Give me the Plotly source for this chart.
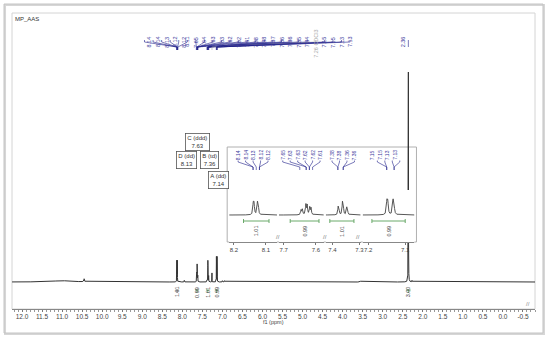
import numpy as np
import plotly.graph_objects as go

# 1H line list: ppm, height (2.36 singlet = 1), half width (ppm)
peak_ppm = [11.0, 10.45, 8.1395, 8.1370, 8.1265, 8.1240, 7.95,
            7.646, 7.642, 7.631, 7.627, 7.619, 7.615,
            7.379, 7.376, 7.363, 7.360, 7.347, 7.344,
            7.26, 7.1495, 7.1470, 7.1330, 7.1305, 7.00, 6.95,
            3.55, 2.36, 2.27]
peak_height = [0.006, 0.014, 0.079, 0.079, 0.079, 0.079, 0.008,
               0.035, 0.040, 0.075, 0.070, 0.055, 0.050,
               0.055, 0.050, 0.085, 0.080, 0.050, 0.045,
               0.043, 0.095, 0.090, 0.095, 0.090, 0.006, 0.006,
               0.004, 1.0, 0.007]
peak_width = [0.30, 0.008, 0.0015, 0.0015, 0.0015, 0.0015, 0.004,
              0.0015, 0.0015, 0.0015, 0.0015, 0.0015, 0.0015,
              0.0015, 0.0015, 0.0015, 0.0015, 0.0015, 0.0015,
              0.0015, 0.0015, 0.0015, 0.0015, 0.0015, 0.004, 0.004,
              0.005, 0.0025, 0.004]

# peak picking labels along the top
main_labels = ["8.14", "8.14", "8.13", "8.12", "8.12", "8.11",
               "7.65", "7.64", "7.63", "7.63", "7.62", "7.62", "7.61",
               "7.38", "7.38", "7.37", "7.36", "7.36", "7.35", "7.34",
               "7.26", "7.15", "7.15", "7.13", "7.13"]
solvent_index = 20
singlet_label = "2.36"

# multiplet boxes
mult_names = ["C (ddd)", "D (dd)", "B (td)", "A (dd)"]
mult_shifts = ["7.63", "8.13", "7.36", "7.14"]

# integrals
integral_values = ["1.01", "0.99", "1.01", "0.99", "3.00"]
integral_from = [8.17, 7.68, 7.41, 7.19, 2.42]
integral_to = [8.09, 7.59, 7.32, 7.10, 2.30]

# axis ticks
x_ticks = [12.0, 11.5, 11.0, 10.5, 10.0, 9.5, 9.0, 8.5, 8.0, 7.5, 7.0, 6.5,
           6.0, 5.5, 5.0, 4.5, 4.0, 3.5, 3.0, 2.5, 2.0, 1.5, 1.0, 0.5, 0.0, -0.5]
x_ticktext = ["12.0", "11.5", "11.0", "10.5", "10.0", "9.5", "9.0", "8.5", "8.0",
              "7.5", "7.0", "6.5", "6.0", "5.5", "5.0", "4.5", "4.0", "3.5", "3.0",
              "2.5", "2.0", "1.5", "1.0", "0.5", "0.0", "-0.5"]

# inset (expanded aromatic region)
inset_ranges = [(8.215, 8.065), (7.715, 7.575), (7.425, 7.295), (7.215, 7.075)]
inset_ticks = [[8.2, 8.1], [7.7, 7.6], [7.4, 7.3], [7.2, 7.1]]
inset_labels = [["8.14", "8.14", "8.13", "8.12", "8.12"],
                ["7.65", "7.63", "7.63", "7.62", "7.62", "7.61"],
                ["7.38", "7.38", "7.36", "7.36"],
                ["7.15", "7.15", "7.13", "7.13"]]
inset_integrals = ["1.01", "0.99", "1.01", "0.99"]

BLUE = "#3a3a9c"
GREEN = "#5aa05a"
FONT = "Liberation Sans"

# plot area in pixels
L, R, T, B = 12, 537, 13, 309
X0, X1 = 12.25, -0.8


def px(x):
    return (x - L) / (R - L)


def py(y):
    return (B - y) / (B - T)


def ppm_px(p):
    return L + (X0 - p) / (X0 - X1) * (R - L)


def spectrum(x):
    y = np.zeros_like(x)
    for p, h, w in zip(peak_ppm, peak_height, peak_width):
        y += h / (1 + ((x - p) / w) ** 2)
    return y


grid = [np.arange(X1, X0, 0.004)]
for p, w in zip(peak_ppm, peak_width):
    if w < 0.01:
        grid.append(np.arange(p - 0.06, p + 0.06, 0.0002))
xs = np.unique(np.concatenate(grid))

fig = go.Figure()
fig.add_trace(go.Scatter(x=xs, y=spectrum(xs), mode="lines",
                         line=dict(color="#333333", width=1), hoverinfo="skip"))

panel_px = [(230, 278), (280, 325), (327, 362), (364, 416)]
inset_top, inset_bottom = 190, 242
for i, (lo, hi) in enumerate(inset_ranges):
    xi = np.linspace(hi, lo, 1500)
    fig.add_trace(go.Scatter(x=xi, y=spectrum(xi), mode="lines", xaxis=f"x{i + 2}", yaxis="y2",
                             line=dict(color="#444444", width=0.9), hoverinfo="skip"))

shapes = []
annotations = []

# outer frame and plot frame
shapes.append(dict(type="rect", xref="paper", yref="paper", x0=px(5), x1=px(546), y0=py(334), y1=py(5),
                   line=dict(color="#d6d6d6", width=2), layer="below"))
shapes.append(dict(type="rect", xref="paper", yref="paper", x0=px(4), x1=px(545), y0=py(333), y1=py(4),
                   line=dict(color="#c4c4c4", width=1), layer="below"))
shapes.append(dict(type="rect", xref="paper", yref="paper", x0=0, x1=1, y0=0, y1=1,
                   line=dict(color="#d4d4d4", width=1), layer="below"))

annotations.append(dict(text="MP_AAS", xref="paper", yref="paper", x=px(13), y=py(14),
                        xanchor="left", yanchor="top", showarrow=False,
                        font=dict(size=6, color="#333", family=FONT)))

# top peak labels + connectors
for i, lab in enumerate(main_labels):
    lx = 145 + i * 8.6
    tx = ppm_px(float(lab))
    solvent = i == solvent_index
    col = "#aaaaaa" if solvent else BLUE
    txt = lab + " CDCl3" if solvent else lab
    yc = 28 if solvent else 34.5
    annotations.append(dict(text=txt, xref="paper", yref="paper", x=px(lx), y=py(yc), textangle=-90,
                            showarrow=False, font=dict(size=5.5, color=col, family=FONT)))
    path = f"M{px(lx)},{py(40)} L{px(lx)},{py(42)} L{px(tx)},{py(47)} L{px(tx)},{py(50)}"
    shapes.append(dict(type="path", xref="paper", yref="paper", path=path,
                       line=dict(color=col if solvent else "#20208a", width=0.6)))

sx = ppm_px(float(singlet_label))
annotations.append(dict(text=singlet_label, xref="paper", yref="paper", x=px(sx), y=py(34.5), textangle=-90,
                        showarrow=False, font=dict(size=5.5, color=BLUE, family=FONT)))
shapes.append(dict(type="line", xref="paper", yref="paper", x0=px(sx), x1=px(sx), y0=py(40), y1=py(47),
                   line=dict(color="#20208a", width=0.6)))

# multiplet boxes
box_xy = [(198, 142), (177, 160), (210, 160), (219, 180)]
for name, shift, (bx, by) in zip(mult_names, mult_shifts, box_xy):
    annotations.append(dict(text=f"{name}<br>{shift}", xref="paper", yref="paper", x=px(bx), y=py(by),
                            showarrow=False, bordercolor="#555", borderwidth=0.8, borderpad=1.5,
                            bgcolor="white", font=dict(size=6, color="#333", family=FONT)))

# main integrals
for k, (val, a, b) in enumerate(zip(integral_values, integral_from, integral_to)):
    col = "#666666" if k == 0 else GREEN
    c = (a + b) / 2
    path = (f"M{px(ppm_px(a))},{py(290)} L{px(ppm_px(b))},{py(290)} "
            f"M{px(ppm_px(c))},{py(290)} L{px(ppm_px(c))},{py(293)}")
    shapes.append(dict(type="path", xref="paper", yref="paper", path=path, line=dict(color=col, width=0.8)))
    annotations.append(dict(text=val, x=c, xref="x", yref="paper", y=py(299.5), textangle=-90,
                            showarrow=False, font=dict(size=5.5, color="#444", family=FONT)))

annotations.append(dict(text="f1 (ppm)", xref="paper", yref="paper", x=px(274), y=py(326.5),
                        showarrow=False, font=dict(size=5.5, color="#444", family=FONT)))
annotations.append(dict(text="//", xref="paper", yref="paper", x=px(534), y=py(309),
                        showarrow=False, font=dict(size=6, color="#888", family=FONT)))

# inset frame
shapes.append(dict(type="rect", xref="paper", yref="paper", x0=px(228), x1=px(418), y0=py(inset_bottom),
                   y1=py(147), line=dict(color="#b0b0b0", width=1), layer="below"))
for bxp in [279, 326, 363]:
    annotations.append(dict(text="//", xref="paper", yref="paper", x=px(bxp), y=py(inset_bottom),
                            showarrow=False, font=dict(size=6, color="#777", family=FONT)))

inset_y0 = -0.2025
inset_y1 = 0.1875
for i, ((lo_px, hi_px), (a, b), labs) in enumerate(zip(panel_px, inset_ranges, inset_labels)):
    def pp(p, lo_px=lo_px, hi_px=hi_px, a=a, b=b):
        return lo_px + (a - p) / (a - b) * (hi_px - lo_px)
    n = len(labs)
    centre = (lo_px + hi_px) / 2
    for j, lab in enumerate(labs):
        lx = centre + (j - (n - 1) / 2) * 7.5
        tx = pp(float(lab))
        annotations.append(dict(text=lab, xref="paper", yref="paper", x=px(lx), y=py(155), textangle=-90,
                                showarrow=False, font=dict(size=5, color=BLUE, family=FONT)))
        path = f"M{px(lx)},{py(160.5)} L{px(lx)},{py(162)} L{px(tx)},{py(167)} L{px(tx)},{py(170)}"
        shapes.append(dict(type="path", xref="paper", yref="paper", path=path,
                           line=dict(color="#20208a", width=0.6)))
    ia, ib = integral_from[i], integral_to[i]
    yb = -0.045
    path = (f"M{ia},{yb} L{ib},{yb} M{ia},{yb - 0.015} L{ia},{yb + 0.015} "
            f"M{ib},{yb - 0.015} L{ib},{yb + 0.015}")
    shapes.append(dict(type="path", xref=f"x{i + 2}", yref="y2", path=path,
                       line=dict(color=GREEN, width=0.9)))
    annotations.append(dict(text=inset_integrals[i], x=(ia + ib) / 2, xref=f"x{i + 2}", y=-0.12, yref="y2",
                            textangle=-90, showarrow=False, font=dict(size=5.5, color="#444", family=FONT)))

fig.update_layout(
    width=550, height=338,
    margin=dict(l=L, r=550 - R, t=T, b=338 - B),
    paper_bgcolor="white", plot_bgcolor="white", showlegend=False,
    xaxis=dict(range=[X0, X1], tickmode="array", tickvals=x_ticks, ticktext=x_ticktext,
               ticks="outside", ticklen=2, tickcolor="#777", showline=True, linecolor="#888",
               linewidth=1, showgrid=False, zeroline=False, ticklabelstandoff=-1,
               tickfont=dict(size=6.5, color="#444", family=FONT),
               minor=dict(tickmode="linear", tick0=0, dtick=0.1, ticks="outside", ticklen=1.5,
                          tickcolor="#999")),
    yaxis=dict(range=[-0.1286, 1.281], visible=False),
    yaxis2=dict(domain=[py(inset_bottom), py(inset_top)], range=[inset_y0, inset_y1],
                visible=False, anchor="x2"),
    shapes=shapes, annotations=annotations,
)
for i, ((lo_px, hi_px), (a, b), tv) in enumerate(zip(panel_px, inset_ranges, inset_ticks)):
    fig.update_layout({f"xaxis{i + 2}": dict(
        domain=[px(lo_px), px(hi_px)], range=[a, b], anchor="y2",
        tickmode="array", tickvals=tv, ticktext=[f"{v:.1f}" for v in tv],
        ticks="outside", ticklen=2, tickcolor="#777", showline=True, linecolor="#888",
        linewidth=1, showgrid=False, zeroline=False,
        tickfont=dict(size=6, color="#444", family=FONT))})

fig.write_html("out.html", config={"displayModeBar": False},
               post_script="document.body.style.margin='0';")
